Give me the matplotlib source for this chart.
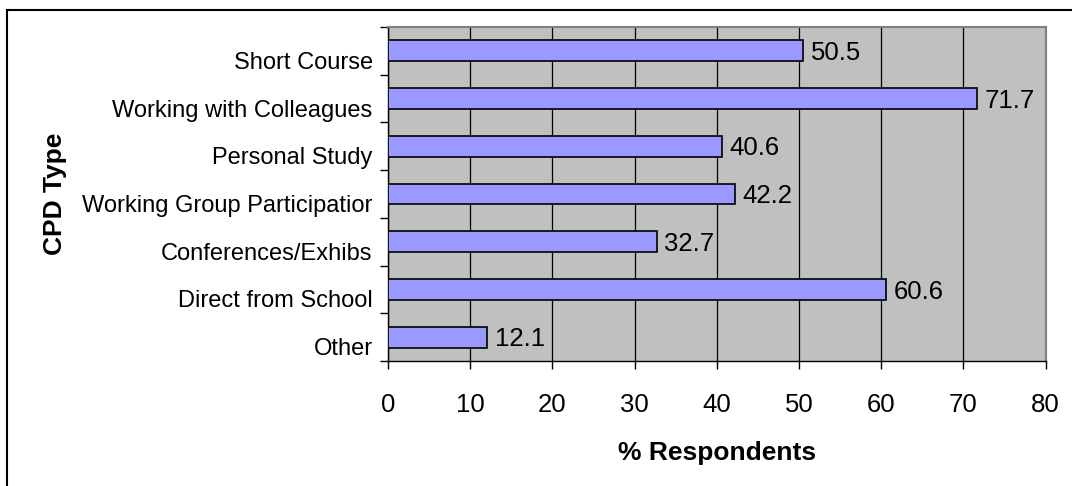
import matplotlib
matplotlib.use("Agg")
import matplotlib.pyplot as plt
from matplotlib.patches import Rectangle

# data
categories = ["Short Course", "Working with Colleagues", "Personal Study",
              "Working Group Participatior", "Conferences/Exhibs",
              "Direct from School", "Other"]
values = [50.5, 71.7, 40.6, 42.2, 32.7, 60.6, 12.1]
x_ticks = [0, 10, 20, 30, 40, 50, 60, 70, 80]

plt.rcParams['font.family'] = ['Liberation Sans', 'DejaVu Sans']

fig = plt.figure(figsize=(10.72, 4.86), dpi=100)

# outer chart border (right / bottom edges are cut off in the original)
fig.patches.append(Rectangle((7 / 1072, -0.1), 1.2, (486 - 9.5) / 486 + 0.1,
                             transform=fig.transFigure, fill=False,
                             edgecolor="black", linewidth=1.5))

ax = fig.add_axes([388 / 1072, 125 / 486, 657.5 / 1072, 334 / 486])
ax.set_facecolor("#C0C0C0")

pos = list(range(len(categories)))
ax.barh(pos, values, height=0.44, color="#9999FF", edgecolor="black",
        linewidth=1.2, zorder=3)

for p, v in zip(pos, values):
    ax.annotate(f"{v}", (v, p), xytext=(5.5, -1.5), textcoords="offset points",
                va="center", ha="left", fontsize=18.5, zorder=4)

ax.set_xlim(0, 80)
ax.set_ylim(len(categories) - 0.5, -0.5)
ax.set_xticks(x_ticks)
ax.set_xticklabels([str(t) for t in x_ticks], fontsize=18.5)
ax.tick_params(axis="x", length=6, width=1, pad=17)

# category ticks sit between bars; labels sit a little below bar centres
ax.set_yticks([p + 0.2 for p in pos])
ax.set_yticklabels(categories, fontsize=17)
ax.set_yticks([p - 0.5 for p in pos] + [len(pos) - 0.5], minor=True)
ax.tick_params(axis="y", which="major", length=0, pad=11)
ax.tick_params(axis="y", which="minor", length=6, width=1)

ax.grid(True, axis="x", color="black", linewidth=0.9, zorder=1)
ax.set_axisbelow(True)

for side in ["top", "right"]:
    ax.spines[side].set_color("#808080")
    ax.spines[side].set_linewidth(1.5)
for side in ["left", "bottom"]:
    ax.spines[side].set_color("black")
    ax.spines[side].set_linewidth(1)

ax.set_xlabel("% Respondents", fontsize=19, fontweight="bold", labelpad=17)
ax.set_ylabel("CPD Type", fontsize=19, fontweight="bold", labelpad=11)

fig.savefig("out.png", dpi=100)
